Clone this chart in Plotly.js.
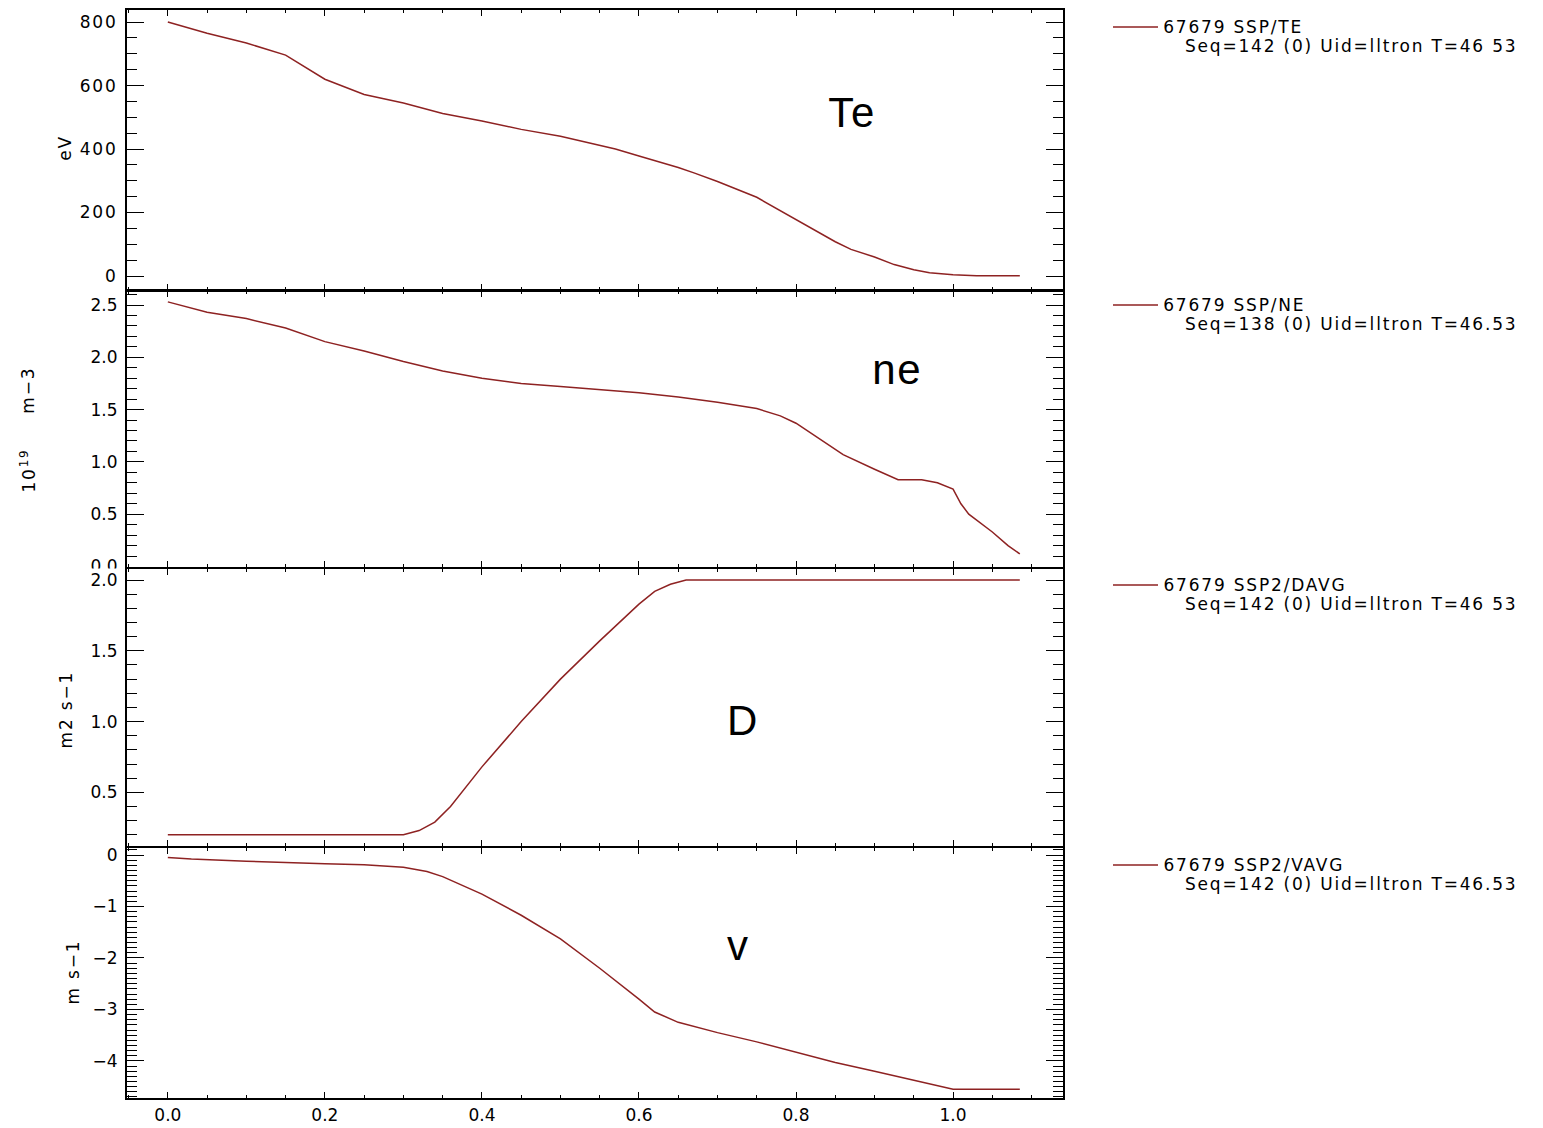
<!DOCTYPE html>
<html><head><meta charset="utf-8">
<script src="https://cdn.plot.ly/plotly-3.0.1.min.js"></script>
<style>
body{margin:0;background:#fff}
#chart .xtick text, #chart .ytick text, #chart .annotation-text{letter-spacing:1.8px}
</style>
</head><body><div id="chart" style="width:1543px;height:1128px"></div>
<script>
// ---- data ----
const te_x = [0, 0.05, 0.1, 0.15, 0.2, 0.25, 0.3, 0.35, 0.4, 0.45, 0.5, 0.55, 0.57, 0.6, 0.65, 0.67, 0.7, 0.75, 0.8, 0.85, 0.87, 0.9, 0.925, 0.95, 0.97, 1.0, 1.03, 1.085];
const te_y = [800, 765, 734, 696, 620, 572, 545, 512, 488, 462, 440, 412, 400, 378, 342, 325, 298, 248, 178, 108, 84, 60, 36, 20, 10, 4, 1, 1];

const ne_x = [0, 0.05, 0.1, 0.15, 0.2, 0.25, 0.3, 0.35, 0.4, 0.45, 0.5, 0.55, 0.6, 0.65, 0.7, 0.75, 0.78, 0.8, 0.83, 0.86, 0.9, 0.93, 0.96, 0.98, 1.0, 1.01, 1.02, 1.05, 1.07, 1.085];
const ne_y = [2.53, 2.43, 2.37, 2.28, 2.15, 2.06, 1.96, 1.87, 1.8, 1.75, 1.72, 1.69, 1.66, 1.62, 1.57, 1.51, 1.44, 1.37, 1.22, 1.07, 0.93, 0.83, 0.83, 0.80, 0.74, 0.6, 0.5, 0.33, 0.2, 0.12];

const d_x = [0, 0.3, 0.32, 0.34, 0.36, 0.4, 0.45, 0.5, 0.55, 0.6, 0.62, 0.64, 0.66, 0.7, 1.085];
const d_y = [0.2, 0.2, 0.23, 0.29, 0.4, 0.68, 1.0, 1.3, 1.57, 1.83, 1.92, 1.97, 2.0, 2.0, 2.0];

const v_x = [0, 0.03, 0.1, 0.15, 0.2, 0.25, 0.3, 0.33, 0.35, 0.4, 0.45, 0.5, 0.55, 0.6, 0.62, 0.65, 0.7, 0.75, 0.8, 0.85, 0.9, 0.95, 1.0, 1.085];
const v_y = [-0.05, -0.08, -0.12, -0.15, -0.17, -0.19, -0.24, -0.32, -0.42, -0.76, -1.17, -1.63, -2.2, -2.8, -3.05, -3.25, -3.45, -3.63, -3.83, -4.03, -4.2, -4.38, -4.55, -4.55];

const x_ticks = [0.0, 0.2, 0.4, 0.6, 0.8, 1.0];
const panel_labels = ['Te', 'ne', 'D', 'v'];
const y_titles = ['eV', '', 'm2 s\u22121', 'm s\u22121'];
const legend_names = ['67679 SSP/TE', '67679 SSP/NE', '67679 SSP2/DAVG', '67679 SSP2/VAVG'];
const legend_info = ['Seq=142 (0) Uid=lltron T=46 53', 'Seq=138 (0) Uid=lltron T=46.53', 'Seq=142 (0) Uid=lltron T=46 53', 'Seq=142 (0) Uid=lltron T=46.53'];

// ---- layout helpers ----
const W = 1543, H = 1128;
const SPACING = 1.8; // css letter-spacing applied to text
const px = x => x / W;
const py = y => 1 - y / H;
const LINE = '#8e2222';
const FONT = {family: 'DejaVu Sans', size: 17, color: '#000'};

const xdom = [px(127), px(1063)];
const ydoms = [[py(290), py(10)], [py(567), py(291)], [py(846), py(569)], [py(1098), py(848)]];

const series = [[te_x, te_y], [ne_x, ne_y], [d_x, d_y], [v_x, v_y]];
const traces = series.map((s, i) => ({
  x: s[0], y: s[1], type: 'scatter', mode: 'lines',
  line: {color: LINE, width: 1.5},
  xaxis: i === 0 ? 'x' : 'x' + (i + 1),
  yaxis: i === 0 ? 'y' : 'y' + (i + 1),
  showlegend: false, hoverinfo: 'skip'
}));

const common = {
  showline: true, linewidth: 2, linecolor: '#000', mirror: 'ticks',
  ticks: 'inside', showgrid: false, zeroline: false, tickcolor: '#000',
  tickfont: FONT, fixedrange: true
};

const layout = {
  width: W, height: H, margin: {l: 0, r: 0, t: 0, b: 0},
  paper_bgcolor: '#fff', plot_bgcolor: '#fff', showlegend: false,
  shapes: [], annotations: []
};

const yCfg = [
  {range: [-44, 838], tick0: 0, dtick: 200, minor: 50, fmt: 'd'},
  {range: [-0.005, 2.634], tick0: 0, dtick: 0.5, minor: 0.1, fmt: '.1f'},
  {range: [0.121, 2.078], tick0: 0, dtick: 0.5, minor: 0.1, fmt: '.1f'},
  {range: [-4.72, 0.136], tick0: 0, dtick: 1, minor: 0.1, fmt: 'd'}
];

for (let i = 0; i < 4; i++) {
  const xn = i === 0 ? 'xaxis' : 'xaxis' + (i + 1);
  const yn = i === 0 ? 'yaxis' : 'yaxis' + (i + 1);
  const ya = i === 0 ? 'y' : 'y' + (i + 1);
  const xa = i === 0 ? 'x' : 'x' + (i + 1);
  layout[xn] = Object.assign({}, common, {
    domain: xdom, anchor: ya, range: [-0.052, 1.14],
    tickvals: x_ticks, ticktext: x_ticks.map(v => v.toFixed(1)),
    ticklen: 6, showticklabels: i === 3, ticklabelstandoff: 1,
    minor: {dtick: 0.05, tick0: 0, ticklen: 3, ticks: 'inside', tickcolor: '#000'}
  });
  const c = yCfg[i];
  layout[yn] = Object.assign({}, common, {
    domain: ydoms[i], anchor: xa, range: c.range,
    tick0: c.tick0, dtick: c.dtick, tickformat: c.fmt,
    ticklen: 17, ticklabelstandoff: 4,
    minor: {dtick: c.minor, tick0: 0, ticklen: 10, ticks: 'inside', tickcolor: '#000'}
  });
}

// panel labels
const labelPos = [[852, 112], [897, 369], [743, 720], [738, 945]];
panel_labels.forEach((t, i) => layout.annotations.push({
  text: t, xref: 'paper', yref: 'paper', x: px(labelPos[i][0]), y: py(labelPos[i][1]),
  xanchor: 'center', yanchor: 'middle', showarrow: false,
  font: {family: 'Liberation Sans, Arial', size: 42, color: '#000'}
}));

// y titles
const titlePos = [[65, 148], null, [66, 710], [73, 972]];
y_titles.forEach((t, i) => {
  if (!t) return;
  layout.annotations.push({
    text: t, xref: 'paper', yref: 'paper', x: px(titlePos[i][0]), y: py(titlePos[i][1]),
    xanchor: 'center', yanchor: 'middle', showarrow: false, textangle: -90, font: FONT
  });
});
layout.annotations.push({
  text: 'm\u22123', xref: 'paper', yref: 'paper', x: px(28), y: py(390),
  xanchor: 'center', yanchor: 'middle', showarrow: false, textangle: -90, font: FONT
});
layout.annotations.push({
  text: '10<sup>19</sup>', xref: 'paper', yref: 'paper', x: px(28), y: py(471),
  xanchor: 'center', yanchor: 'middle', showarrow: false, textangle: -90, font: FONT
});

// legend entries at right (shift compensates the centred letter-spacing growth)
const legY = [27, 305, 585, 865];
legend_names.forEach((n, i) => {
  layout.shapes.push({
    type: 'line', xref: 'paper', yref: 'paper', x0: px(1113), x1: px(1158),
    y0: py(legY[i]), y1: py(legY[i]), line: {color: LINE, width: 1.5}
  });
  layout.annotations.push({
    text: n, xref: 'paper', yref: 'paper', x: px(1161 + n.length * SPACING / 2), y: py(legY[i]),
    xanchor: 'left', yanchor: 'middle', showarrow: false, font: FONT
  });
  const s = legend_info[i];
  layout.annotations.push({
    text: s, xref: 'paper', yref: 'paper', x: px(1183 + s.length * SPACING / 2), y: py(legY[i] + 19),
    xanchor: 'left', yanchor: 'middle', showarrow: false, font: FONT
  });
});

// clip lower half of the ne "0.0" label like the reference
layout.shapes.push({
  type: 'rect', xref: 'paper', yref: 'paper', layer: 'above',
  x0: px(80), x1: px(125), y0: py(573), y1: py(568.5),
  line: {width: 0}, fillcolor: '#fff'
});

Plotly.newPlot('chart', traces, layout, {staticPlot: true, displayModeBar: false});
</script>
</body></html>
